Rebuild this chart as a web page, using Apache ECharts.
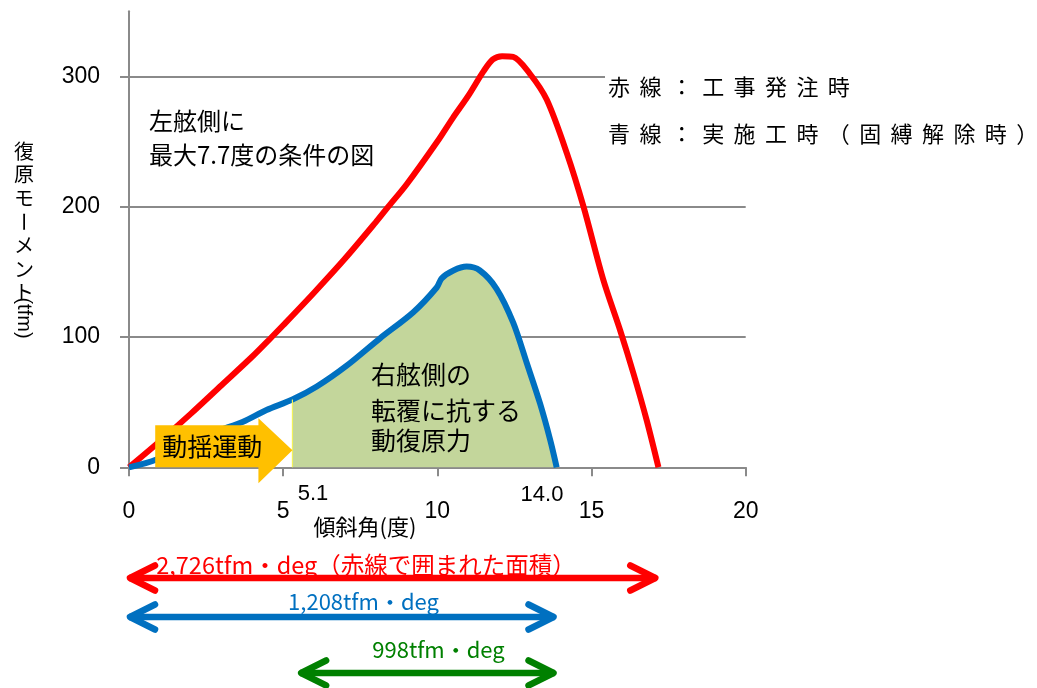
<!DOCTYPE html>
<html>
<head>
<meta charset="utf-8">
<script src="https://cdn.jsdelivr.net/npm/echarts@6/dist/echarts.min.js"></script>
<style>
  html, body { margin: 0; padding: 0; background: #ffffff; }
  #chart { width: 1037px; height: 688px; }
</style>
</head>
<body>
<div id="chart"></div>
<script>
// 復原モーメント曲線 (傾斜角 deg → tfm)
const redAngles  = [0, 1, 2, 3, 4, 4.63, 5, 6, 7, 8, 8.41, 9, 10, 10.5, 11, 11.5, 11.8, 12.1, 12.46, 13.0, 13.55, 14.2, 14.74, 15.38, 15.93, 16.36, 16.79, 17.17];
const redMoments = [0, 20, 41, 63, 85, 100, 109, 134, 160, 188, 200, 217, 250, 268, 285, 304, 313, 315.5, 315, 302, 282, 241, 200, 144, 105, 72, 36, 0];

const blueAngles  = [0, 0.89, 2.3, 3.0, 3.7, 4.46, 5.3, 6.09, 7.06, 8.14, 9.22, 9.98, 10.14, 10.52, 10.95, 11.38, 11.92, 12.46, 12.9, 13.33, 13.66, 13.87];
const blueMoments = [0, 6, 23, 29, 35, 44, 52, 62, 78, 99, 119, 138, 145, 151, 154, 151, 137, 111, 80, 49, 21, 0];

// 右舷側の動復原力 (塗りつぶし) の開始角と動揺運動の範囲
const fillStart = 5.3;
const swayStart = 0.85;

// 軸
const xTicks = [0, 5, 10, 15, 20];
const yTicks = [0, 100, 200, 300];

// 文字
const yAxisTitle = '復原モーメント(tfm)';
const xAxisTitle = '傾斜角(度)';
const legendLines = ['赤線：工事発注時', '青線：実施工時（固縛解除時）'];
const leftNote = ['左舷側に', '最大7.7度の条件の図'];
const rightNote = ['右舷側の', '転覆に抗する', '動復原力'];
const swayLabel = '動揺運動';
const angleMarks = ['5.1', '14.0'];

// 面積 (矢印の範囲と値)
const spanLabels = ['2,726tfm・deg（赤線で囲まれた面積）', '1,208tfm・deg', '998tfm・deg'];
const spanRanges = [[0, 17.1], [0, 13.8], [5.55, 13.8]];

const RED = '#ff0000', BLUE = '#0070c0', GREEN = '#008000', FILL = '#c3d69b', ORANGE = '#ffc000', GRID = '#8a8a8a';
const JP = '"Noto Sans CJK JP", "Noto Sans", sans-serif';
const LAT = '"Liberation Sans", Arial, sans-serif';

const pairs = (xs, ys) => xs.map((x, i) => [x, ys[i]]);
const redData = pairs(redAngles, redMoments);
const blueData = pairs(blueAngles, blueMoments);
const fillData = blueData.filter(p => p[0] >= fillStart);

const chart = echarts.init(document.getElementById('chart'), null, { renderer: 'canvas' });

chart.setOption({
  animation: false,
  backgroundColor: '#ffffff',
  grid: { left: 129, right: 291.3, top: 11.2, bottom: 220.7, containLabel: false, outerBoundsMode: 'none' },
  xAxis: {
    type: 'value', min: 0, max: 20, interval: 5,
    axisLine: { show: true, onZero: false, lineStyle: { color: GRID, width: 2 } },
    axisTick: { show: true, length: 9, lineStyle: { color: GRID, width: 2 }, customValues: xTicks },
    axisLabel: { margin: 33, fontSize: 23, fontFamily: LAT, color: '#000', customValues: xTicks },
    splitLine: { show: false }
  },
  yAxis: {
    type: 'value', min: 0, max: 350, interval: 100,
    axisLine: { show: true, lineStyle: { color: GRID, width: 2 } },
    axisTick: { show: true, length: 9, lineStyle: { color: GRID, width: 2 }, customValues: yTicks },
    axisLabel: { margin: 29, fontSize: 23, fontFamily: LAT, color: '#000', customValues: yTicks },
    splitLine: { show: true, lineStyle: { color: GRID, width: 2 } }
  },
  series: [
    {
      name: 'fill', type: 'line', data: fillData, smooth: 0.3, showSymbol: false, z: 1,
      lineStyle: { color: '#ffff00', width: 1 },
      areaStyle: { color: FILL, opacity: 1 }
    },
    {
      name: 'red', type: 'line', data: redData, smooth: 0.3, showSymbol: false, z: 3,
      lineStyle: { color: RED, width: 6 }
    },
    {
      name: 'blue', type: 'line', data: blueData, smooth: 0.3, showSymbol: false, z: 4,
      lineStyle: { color: BLUE, width: 6 }
    }
  ]
});

const px = (x, y) => chart.convertToPixel({ gridIndex: 0 }, [x, y]);

function text(str, x, y, font, fill, align, extra) {
  return Object.assign({
    type: 'text', z: 60,
    style: { text: str, x: x, y: y, font: font, fill: fill || '#000', align: align || 'left', verticalAlign: 'middle' }
  }, extra || {});
}

const els = [];

// 凡例の背景 (目盛線を隠す)
els.push({ type: 'rect', z: 50, shape: { x: 605, y: 68, width: 432, height: 86 }, style: { fill: '#ffffff' } });
legendLines.forEach((line, r) => {
  Array.from(line).forEach((c, i) => {
    els.push(text(c, 619 + i * 31.4, r === 0 ? 87 : 134, '22px ' + JP, '#000', 'center'));
  });
});

// 縦軸タイトル (縦書き)
const yt = yAxisTitle.indexOf('(');
Array.from(yAxisTitle.slice(0, yt)).forEach((c, i) => {
  els.push({
    type: 'text', z: 60, x: 24, y: 151 + i * 23.6, rotation: c === 'ー' ? -Math.PI / 2 : 0,
    style: { text: c, x: 0, y: 0, font: '20px ' + JP, fill: '#000', align: 'center', verticalAlign: 'middle' }
  });
});
els.push({
  type: 'text', z: 60, x: 24, y: 318, rotation: -Math.PI / 2,
  style: { text: yAxisTitle.slice(yt), x: 0, y: 0, font: '20px ' + LAT, fill: '#000', align: 'center', verticalAlign: 'middle' }
});

// 横軸タイトルと角度の注記
els.push(text(xAxisTitle, 365, 527, '22px ' + JP, '#000', 'center'));
els.push(text(angleMarks[0], 313, 494, '22px ' + LAT, '#000', 'center'));
els.push(text(angleMarks[1], 542, 495, '22px ' + LAT, '#000', 'center'));

// 注記
els.push(text(leftNote[0], 149, 121, '24px ' + JP));
els.push(text(leftNote[1], 149, 155, '24px ' + JP));
[374, 410, 440].forEach((y, i) => els.push(text(rightNote[i], 371, y, '25px ' + JP)));

// 塗りつぶし左端の縁
const f0 = px(fillStart, 0), f1 = px(fillStart, blueMoments[blueAngles.indexOf(fillStart)]);
els.push({ type: 'line', z: 5, shape: { x1: f0[0], y1: f0[1], x2: f1[0], y2: f1[1] }, style: { stroke: '#f2f25a', lineWidth: 1.2 } });

// 動揺運動の矢印
const a0 = px(swayStart, 0), a1 = px(fillStart, 0);
const base = a0[1], hx = a1[0] - 34;
els.push({
  type: 'polygon', z: 40,
  shape: { points: [
    [a0[0], base - 42], [hx, base - 42], [hx, base - 49], [a1[0], base - 17],
    [hx, base + 16], [hx, base], [a0[0], base]
  ] },
  style: { fill: ORANGE }
});
els.push(text(swayLabel, a0[0] + 7, base - 21, '25px ' + JP));

// 面積の両矢印
const spanColors = [RED, BLUE, GREEN];
const spanY = [578, 617, 673];
const spanText = [[366, 565, '23.5px '], [363.5, 602, '22px '], [438.5, 650, '22px ']];
spanRanges.forEach((r, i) => {
  const xl = px(r[0], 0)[0], xr = px(r[1], 0)[0], y = spanY[i];
  const st = { stroke: spanColors[i], lineWidth: 6.5, lineCap: 'round', lineJoin: 'round', fill: null };
  els.push({ type: 'polyline', z: 30, shape: { points: [[xl, y], [xr, y]] }, style: Object.assign({}, st, { lineCap: 'butt' }) });
  els.push({ type: 'polyline', z: 30, shape: { points: [[xl + 26, y - 12.5], [xl + 1, y], [xl + 26, y + 12.5]] }, style: st });
  els.push({ type: 'polyline', z: 30, shape: { points: [[xr - 26, y - 12.5], [xr - 1, y], [xr - 26, y + 12.5]] }, style: st });
  els.push(text(spanLabels[i], spanText[i][0], spanText[i][1], spanText[i][2] + JP, spanColors[i], 'center'));
});

chart.setOption({ graphic: els });
</script>
</body>
</html>
